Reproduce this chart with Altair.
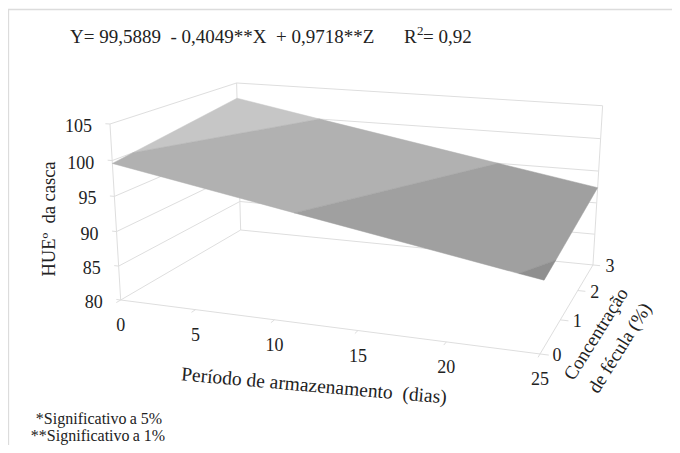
import altair as alt
import pandas as pd

# values
x_ticks = [0, 5, 10, 15, 20, 25]
y_ticks = [80, 85, 90, 95, 100, 105]
z_ticks = [0, 1, 2, 3]

band_names = ["a", "b", "c", "d"]
band_colors = ["#c6c6c6", "#b1b1b1", "#a0a0a0", "#8f8f8f"]
band_x = [[0, 0, 6.2], [0, 11.3, 18.6, 6.2, 0], [11.3, 23.7, 25, 25, 18.6], [23.7, 25, 25]]
band_z = [[0.42, 3, 3], [0, 0, 3, 3, 0.42], [0, 0, 0.55, 3, 3], [0, 0, 0.55]]
band_y = [[100, 102.5, 100], [99.6, 95, 95, 100, 100], [95, 90, 90, 92.4, 95], [90, 89.5, 90]]

# perspective camera of the 3-D box
CAM = dict(ox=120.7, oy=300.0, ax=348.6, ay=7.6, bx=170.5, by=-21.7,
           cx=-15.8, cy=-181.7, e=-0.131, f=0.21, g=-0.046, tx=-1.5, ty=5.0)


def proj(X, Z, Y):
    u, v, w = X / 25, Z / 3, (Y - 80) / 25
    d = 1 + CAM["e"] * u + CAM["f"] * v + CAM["g"] * w
    return ((CAM["ox"] + CAM["ax"] * u + CAM["bx"] * v + CAM["cx"] * w + CAM["tx"] * u * v * w) / d,
            (CAM["oy"] + CAM["ay"] * u + CAM["by"] * v + CAM["cy"] * w + CAM["ty"] * u * v * w) / d)


W, H = 664, 437
sx = alt.Scale(domain=[8, 8 + W], range=[0, W], nice=False, zero=False)
sy = alt.Scale(domain=[8, 8 + H], range=[0, H], nice=False, zero=False)
ex = alt.X("px:Q", scale=sx, axis=None)
ey = alt.Y("py:Q", scale=sy, axis=None)


def segs(pairs):
    rows = []
    for i, (a, b) in enumerate(pairs):
        pa, pb = proj(*a), proj(*b)
        rows += [dict(s=i, k=0, px=pa[0], py=pa[1]), dict(s=i, k=1, px=pb[0], py=pb[1])]
    return pd.DataFrame(rows)


grid_pairs = []
for y in y_ticks:
    grid_pairs.append(((0, 0, y), (0, 3, y)))
    grid_pairs.append(((0, 3, y), (25, 3, y)))
grid_pairs += [((0, 0, 80), (0, 0, 105)), ((0, 3, 80), (0, 3, 105)), ((25, 3, 80), (25, 3, 105)),
               ((0, 0, 80), (25, 0, 80)), ((25, 0, 80), (25, 3, 80))]
for x in x_ticks:
    grid_pairs.append(((x, 0, 80), (x, -0.09, 80)))
for z in z_ticks:
    grid_pairs.append(((25, z, 80), (25.45, z, 80)))
for y in y_ticks:
    grid_pairs.append(((0, 0, y), (-0.3, 0, y)))

grid = alt.Chart(segs(grid_pairs)).mark_line(color="#dedede", strokeWidth=1).encode(
    x=ex, y=ey, detail="s:N", order="k:Q")

rows = []
for n, xs, zs, ys in zip(band_names, band_x, band_z, band_y):
    pts = list(zip(xs, zs, ys)) + [(xs[0], zs[0], ys[0])]
    for k, (a, b, c) in enumerate(pts):
        px, py = proj(a, b, c)
        rows.append(dict(band=n, k=k, px=px, py=py))

surface = alt.Chart(pd.DataFrame(rows)).mark_line(strokeWidth=0.5).encode(
    x=ex, y=ey, order="k:Q",
    detail="band:N",
    fill=alt.Fill("band:N", scale=alt.Scale(domain=band_names, range=band_colors), legend=None),
    stroke=alt.Stroke("band:N", scale=alt.Scale(domain=band_names, range=band_colors), legend=None),
)

frame = alt.Chart(pd.DataFrame(dict(s=[0, 0, 0], k=[0, 1, 2], px=[8.5, 8.5, 672], py=[445, 9.5, 9.5]))).mark_line(
    color="#dcdcdc", strokeWidth=1.3).encode(x=ex, y=ey, order="k:Q")

FONT = "Liberation Serif"


def labels(texts, pts, size, dx=0, dy=0, align="center"):
    df = pd.DataFrame(dict(t=texts, px=[p[0] for p in pts], py=[p[1] for p in pts]))
    return alt.Chart(df).mark_text(font=FONT, fontSize=size, color="#222222", dx=dx, dy=dy, align=align,
                                   baseline="middle").encode(x=ex, y=ey, text="t:N")


def free(text, px, py, size, angle=0, align="center"):
    df = pd.DataFrame(dict(t=[text], px=[px], py=[py]))
    return alt.Chart(df).mark_text(font=FONT, fontSize=size, color="#222222", angle=angle, align=align,
                                   baseline="middle").encode(x=ex, y=ey, text="t:N")


txt = [
    labels([str(v) for v in y_ticks], [proj(0, 0, v) for v in y_ticks], 18, dx=-18, dy=3, align="right"),
    labels([str(v) for v in x_ticks], [proj(v, 0, 80) for v in x_ticks], 18, dy=26),
    labels([str(v) for v in z_ticks], [proj(25, v, 80) for v in z_ticks], 18, dx=17, dy=2),
    free("Y=\u00a099,5889\u00a0\u00a0-\u00a00,4049**X\u00a0\u00a0+\u00a00,9718**Z", 70, 36.5, 19, align="left"),
    free("R", 404, 36.5, 19, align="left"),
    free("2", 417, 30.5, 13, align="left"),
    free("=\u00a00,92", 423, 36.5, 19, align="left"),
    free("HUE\u00ba\u00a0\u00a0da casca", 49, 219, 18.5, angle=270),
    free("Per\u00edodo de armazenamento\u00a0\u00a0(dias)", 314, 386, 19.5, angle=5),
    free("Concentra\u00e7\u00e3o", 596, 334, 19, angle=302),
    free("de f\u00e9cula (%)", 620, 348, 19, angle=302),
    free("*Significativo\u2009a 5%", 99, 419, 16),
    free("**Significativo\u2009a 1%", 98, 436, 16),
]

chart = alt.layer(frame, grid, surface, *txt).properties(
    width=W, height=H, padding=0, autosize=alt.AutoSizeParams(type="none"),
    background="white",
).configure_view(stroke=None)

chart.save("out.html", embed_options={"renderer": "svg", "actions": False})
